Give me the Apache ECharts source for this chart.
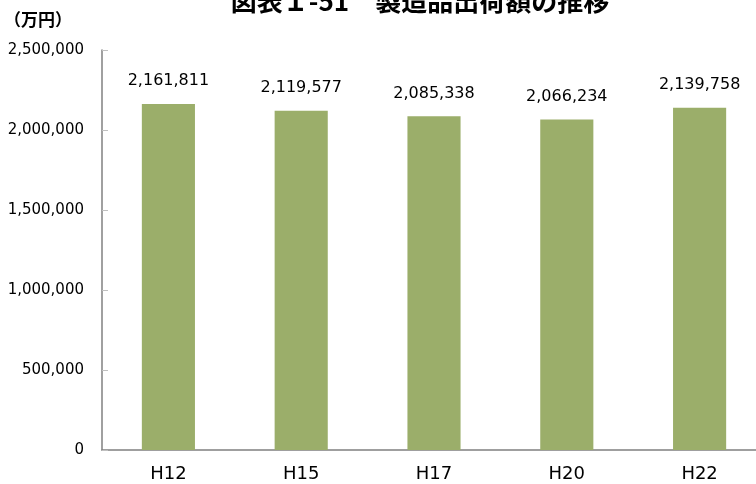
<!DOCTYPE html>
<html>
<head>
<meta charset="utf-8">
<title>製造品出荷額の推移</title>
<script src="https://cdn.jsdelivr.net/npm/echarts@6/dist/echarts.min.js"></script>
<style>
  html, body { margin: 0; padding: 0; background: #fff; overflow: hidden; }
  /* plot runs a little past the right edge of the picture, as in the original */
  #main { width: 766px; height: 484px; }
</style>
</head>
<body>
<div id="main"></div>
<script>
// data
var years = ["H12", "H15", "H17", "H20", "H22"];
var shipments = [2161811, 2119577, 2085338, 2066234, 2139758];
var yTicks = [0, 500000, 1000000, 1500000, 2000000, 2500000];

var font = '"DejaVu Sans", sans-serif';
var cjk = '"Noto Sans CJK JP", sans-serif';

function fmt(v) {
  return String(v).replace(/\B(?=(\d{3})+(?!\d))/g, ",");
}

var chart = echarts.init(document.getElementById("main"));
var option = {
  animation: false,
  title: {
    text: "図表Ｉ-51　製造品出荷額の推移",
    left: 415,
    textAlign: "center",
    top: -17,
    textStyle: { fontFamily: cjk, fontSize: 26, fontWeight: "bold", color: "#000" }
  },
  graphic: [{
    type: "text",
    left: 4,
    top: 11,
    style: { text: "（万円）", font: "bold 17px " + cjk, fill: "#000" }
  }],
  grid: { left: 102, right: 0, top: 50, bottom: 34 },
  xAxis: {
    type: "category",
    data: years,
    axisLine: { lineStyle: { color: "#808080", width: 1.5 } },
    axisTick: { inside: true, length: 6, lineStyle: { color: "#c0c0c0" } },
    axisLabel: { margin: 15, fontFamily: font, fontSize: 18, color: "#000" }
  },
  yAxis: {
    type: "value",
    min: yTicks[0],
    max: yTicks[yTicks.length - 1],
    interval: yTicks[1] - yTicks[0],
    splitLine: { show: false },
    axisLine: { show: true, lineStyle: { color: "#808080", width: 1.5 } },
    axisTick: { show: true, inside: true, length: 6, lineStyle: { color: "#c0c0c0" } },
    axisLabel: { margin: 18, fontFamily: font, fontSize: 15, color: "#000", formatter: fmt }
  },
  series: [{
    type: "bar",
    data: shipments,
    barWidth: "40%",
    itemStyle: { color: "#9bae6a" },
    label: {
      show: true,
      position: "top",
      distance: 15,
      fontFamily: font,
      fontSize: 16,
      color: "#000",
      formatter: function (p) { return fmt(p.value); }
    }
  }]
};
chart.setOption(option);
</script>
</body>
</html>
